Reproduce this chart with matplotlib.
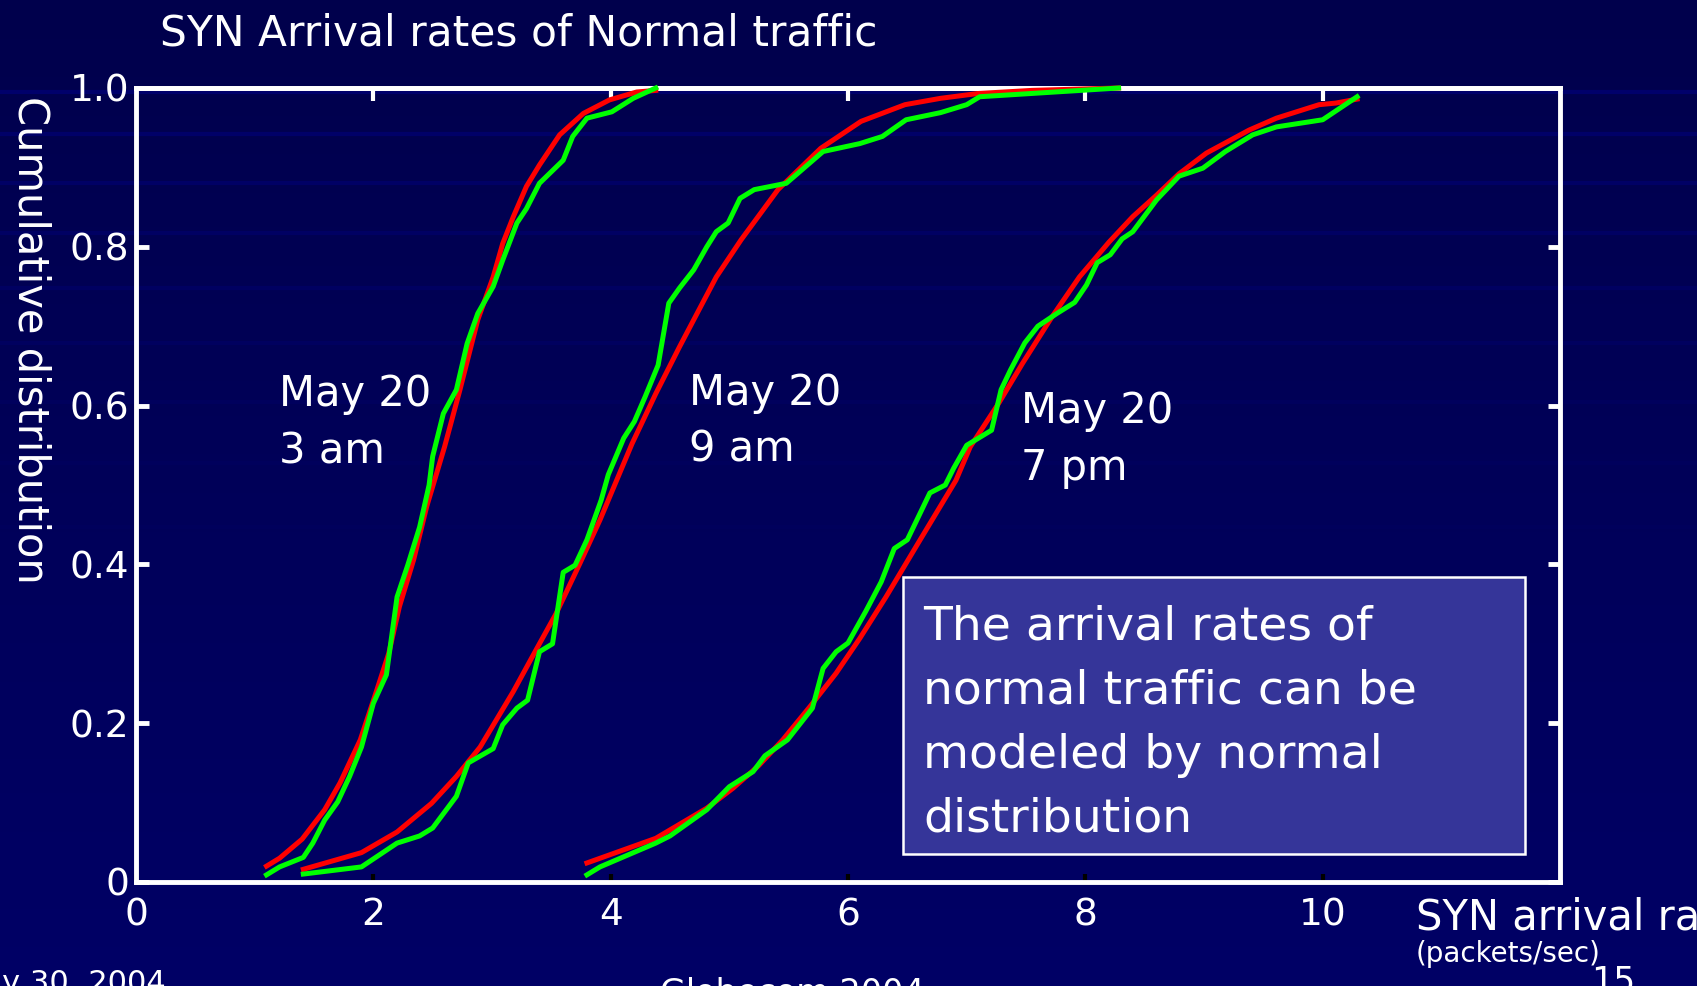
import numpy as np
import matplotlib
matplotlib.use("Agg")
from matplotlib import pyplot as plt
from matplotlib.patches import Rectangle

# ---- values ----
xticks = [0, 2, 4, 6, 8, 10]
yticks = [0, 0.2, 0.4, 0.6, 0.8, 1.0]
ytick_labels = ['0', '0.2', '0.4', '0.6', '0.8', '1.0']

# May 20, 3 am
fit_3am_x = [1.10, 1.21, 1.40, 1.59, 1.72, 1.89, 2.03, 2.13, 2.22, 2.34, 2.45, 2.60, 2.73, 2.88,
             3.01, 3.09, 3.18, 3.29, 3.40, 3.57, 3.77, 3.99, 4.22, 4.38]
fit_3am_y = [0.020, 0.030, 0.054, 0.091, 0.125, 0.179, 0.242, 0.288, 0.347, 0.406, 0.473, 0.548, 0.620, 0.708,
             0.762, 0.804, 0.838, 0.876, 0.903, 0.941, 0.968, 0.985, 0.995, 0.997]
emp_3am_x = [1.10, 1.21, 1.41, 1.49, 1.59, 1.70, 1.80, 1.90, 2.00, 2.11, 2.20, 2.29, 2.39, 2.47, 2.50,
             2.59, 2.70, 2.79, 2.88, 3.01, 3.09, 3.21, 3.29, 3.40, 3.60, 3.68, 3.80, 4.01, 4.19, 4.38]
emp_3am_y = [0.009, 0.019, 0.031, 0.049, 0.078, 0.101, 0.133, 0.170, 0.225, 0.261, 0.359, 0.399, 0.447, 0.500, 0.536,
             0.590, 0.620, 0.678, 0.716, 0.750, 0.783, 0.830, 0.848, 0.880, 0.909, 0.939, 0.962, 0.970, 0.987, 1.000]

# May 20, 9 am
fit_9am_x = [1.41, 1.90, 2.20, 2.49, 2.70, 2.90, 3.18, 3.37, 3.54, 3.74, 3.91, 4.18, 4.38, 4.58, 4.89,
             5.10, 5.41, 5.77, 6.11, 6.48, 6.78, 7.09, 7.55, 8.28]
fit_9am_y = [0.016, 0.037, 0.063, 0.099, 0.133, 0.170, 0.240, 0.292, 0.338, 0.401, 0.456, 0.552, 0.615, 0.674, 0.762,
             0.809, 0.872, 0.924, 0.958, 0.979, 0.987, 0.993, 0.997, 1.000]
emp_9am_x = [1.41, 1.90, 2.20, 2.39, 2.50, 2.70, 2.80, 3.01, 3.09, 3.21, 3.30, 3.40, 3.51, 3.60, 3.70, 3.80,
             3.92, 3.98, 4.11, 4.20, 4.29, 4.40, 4.49, 4.58, 4.70, 4.81, 4.89, 4.99, 5.09, 5.21, 5.48,
             5.79, 6.10, 6.29, 6.49, 6.78, 7.00, 7.11, 8.28]
emp_9am_y = [0.010, 0.019, 0.049, 0.058, 0.068, 0.108, 0.150, 0.168, 0.198, 0.219, 0.229, 0.290, 0.300, 0.390, 0.399, 0.431,
             0.481, 0.513, 0.559, 0.580, 0.611, 0.651, 0.729, 0.748, 0.771, 0.800, 0.819, 0.830, 0.861, 0.872, 0.880,
             0.920, 0.930, 0.939, 0.960, 0.969, 0.979, 0.989, 1.000]

# May 20, 7 pm
fit_7pm_x = [3.80, 4.38, 4.81, 5.03, 5.25, 5.45, 5.68, 5.90, 6.10, 6.32, 6.60, 6.91, 7.03, 7.27, 7.47,
             7.72, 7.95, 8.20, 8.40, 8.60, 8.79, 9.02, 9.38, 9.61, 9.97, 10.11, 10.29]
fit_7pm_y = [0.024, 0.055, 0.093, 0.118, 0.147, 0.179, 0.221, 0.263, 0.307, 0.359, 0.429, 0.506, 0.548, 0.603, 0.653,
             0.712, 0.762, 0.806, 0.838, 0.865, 0.892, 0.918, 0.947, 0.962, 0.979, 0.981, 0.986]
emp_7pm_x = [3.80, 3.91, 4.38, 4.50, 4.81, 5.00, 5.20, 5.30, 5.49, 5.70, 5.79, 5.90, 6.00, 6.15, 6.28, 6.39,
             6.50, 6.69, 6.82, 6.89, 7.00, 7.21, 7.29, 7.37, 7.49, 7.60, 7.76, 7.91, 8.01, 8.10, 8.21,
             8.31, 8.40, 8.60, 8.79, 8.99, 9.18, 9.41, 9.61, 10.00, 10.17, 10.29]
emp_7pm_y = [0.009, 0.019, 0.049, 0.058, 0.091, 0.120, 0.139, 0.159, 0.179, 0.219, 0.269, 0.290, 0.301, 0.341, 0.378, 0.420,
             0.431, 0.490, 0.500, 0.521, 0.550, 0.569, 0.620, 0.645, 0.679, 0.700, 0.716, 0.730, 0.752, 0.780, 0.790,
             0.810, 0.819, 0.859, 0.889, 0.899, 0.920, 0.941, 0.951, 0.960, 0.977, 0.989]

curves = [(fit_3am_x, fit_3am_y, emp_3am_x, emp_3am_y),
          (fit_9am_x, fit_9am_y, emp_9am_x, emp_9am_y),
          (fit_7pm_x, fit_7pm_y, emp_7pm_x, emp_7pm_y)]

labels = [["May 20", "3 am"], ["May 20", "9 am"], ["May 20", "7 pm"]]
box_lines = ["The arrival rates of", "normal traffic can be", "modeled by normal", "distribution"]

# ---- layout (pixels of the 1697x986 slide) ----
W, H = 1697, 986
plt.rcParams['font.family'] = ['DejaVu Sans']

def fx(px):
    return px / W

def fy(py):
    return 1 - py / H

fig = plt.figure(figsize=(W / 100, H / 100), dpi=100)
fig.patch.set_facecolor('#00005c')

# background: dark blue gradient with faint horizontal stripes
bg = fig.add_axes([0, 0, 1, 1], zorder=-5)
grad = np.linspace(0, 1, 256).reshape(-1, 1)
cmap = matplotlib.colors.LinearSegmentedColormap.from_list('bgc', ['#00004c', '#000066'])
bg.imshow(grad, aspect='auto', cmap=cmap, extent=[0, W, H, 0])
stripe_rows = [92, 134, 183, 233, 288, 343, 402, 463, 527]
for i, r in enumerate(stripe_rows):
    bg.axhline(r, color='#000080', lw=3, alpha=max(0.6 - i * 0.07, 0.08))
bg.set_xlim(0, W)
bg.set_ylim(H, 0)
bg.axis('off')

ax = fig.add_axes([fx(136), fy(882), fx(1560) - fx(136), fy(88) - fy(882)])
ax.patch.set_alpha(0)

for fxs, fys, exs, eys in curves:
    ax.plot(fxs, fys, color='#ff0000', lw=3.6, zorder=3, clip_on=False)
    ax.plot(exs, eys, color='#00ff00', lw=3.6, zorder=4, clip_on=False)

ax.set_xlim(0, 12)
ax.set_ylim(0, 1)
ax.set_xticks(xticks)
ax.set_xticklabels([str(t) for t in xticks])
ax.set_yticks(yticks)
ax.set_yticklabels(ytick_labels)
for s in ax.spines.values():
    s.set_color('white')
    s.set_linewidth(3.5)
ax.tick_params(axis='y', direction='in', length=9, width=3.5, color='white', labelcolor='white',
               labelsize=27, right=True, pad=5)
ax.tick_params(axis='x', direction='in', length=6, width=3, color='black', labelcolor='white',
               labelsize=27, pad=11, top=False)

# white tick marks hanging from the top frame
top = ax.secondary_xaxis('top')
top.set_xticks(xticks[1:])
top.tick_params(direction='in', length=9, width=3, color='white', labeltop=False)
top.spines['top'].set_color('white')
top.spines['top'].set_linewidth(3.5)

# titles and axis texts
fig.text(fx(160), fy(46), "SYN Arrival rates of Normal traffic", color='white', fontsize=30.5, va='baseline')
fig.text(fx(30), fy(340), "Cumulative distribution", color='white', fontsize=30,
         rotation=-90, ha='center', va='center')
fig.text(fx(1416), fy(929), "SYN arrival rate", color='white', fontsize=30, va='baseline')
fig.text(fx(1416), fy(962), "(packets/sec)", color='white', fontsize=20, va='baseline')
fig.text(fx(1591), fy(992), "15", color='white', fontsize=25, va='baseline')
fig.text(fx(166), fy(992), "May 30, 2004", color='white', fontsize=22, va='baseline', ha='right')
fig.text(fx(660), fy(1003), "Globecom 2004", color='white', fontsize=24, va='baseline')

# curve labels
label_pos = [(279, 406, 464), (689, 405, 462), (1021, 423, 480)]
for (x0, b1, b2), (l1, l2) in zip(label_pos, labels):
    fig.text(fx(x0), fy(b1), l1, color='white', fontsize=30, va='baseline')
    fig.text(fx(x0), fy(b2), l2, color='white', fontsize=30, va='baseline')

# note box
fig.patches.append(Rectangle((fx(903), fy(854)), fx(1525) - fx(903), fy(577) - fy(854),
                             transform=fig.transFigure, facecolor='#353599', edgecolor='white',
                             lw=1.8, zorder=5))
for i, line in enumerate(box_lines):
    fig.text(fx(923), fy(640 + 64 * i), line, color='white', fontsize=34, va='baseline', zorder=6)

fig.savefig('out.png', dpi=100, facecolor=fig.get_facecolor())
